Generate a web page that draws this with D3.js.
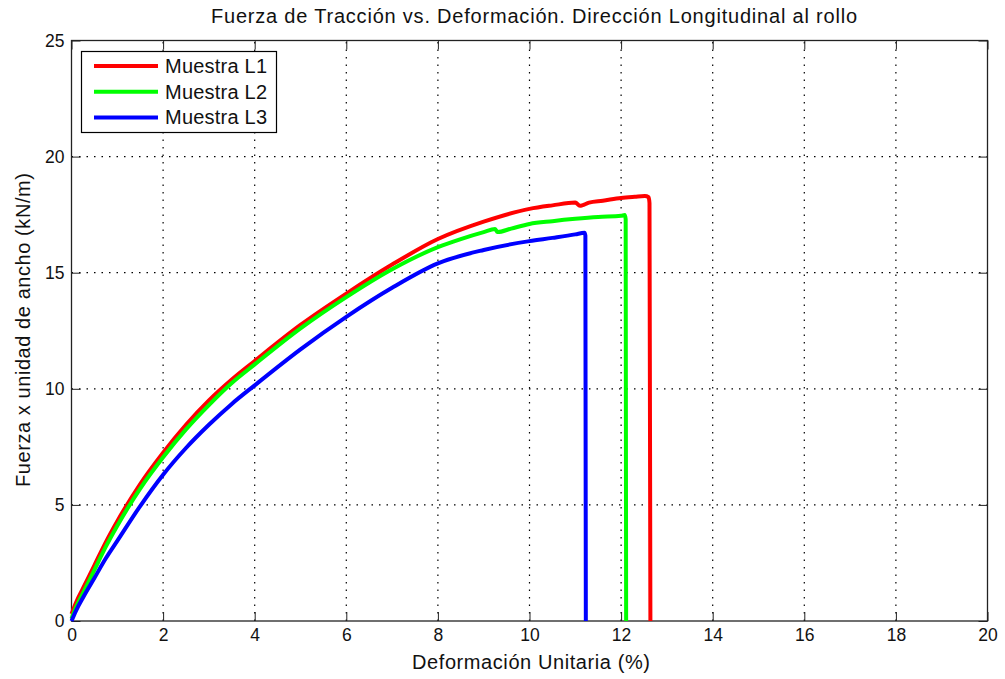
<!DOCTYPE html>
<meta charset="utf-8">
<script src="https://cdn.jsdelivr.net/npm/d3@7/dist/d3.min.js"></script>
<style>
body{margin:0;background:#fff;}
svg{font-family:"Liberation Sans",Arial,sans-serif;}
.domain{display:none}
</style>
<body>
<div id="chart"></div>
<script>
// data
var seriesNames=["Muestra L1","Muestra L2","Muestra L3"];
var seriesColors=["#ff0000","#00ff00","#0000ff"];

var xL1=[0,0.1,0.25,0.5,0.75,1,1.5,2,2.5,3,3.5,4,5,6,7,8,9,10,10.5,11,11.1,11.15,11.3,11.6,12,12.3,12.52,12.6,12.62,12.64];
var yL1=[0.3,0.8,1.4,2.4,3.4,4.3,5.9,7.25,8.45,9.5,10.4,11.2,12.75,14.1,15.35,16.45,17.2,17.75,17.9,18.02,17.88,17.9,18.02,18.1,18.22,18.27,18.3,18.25,18.0,0];

var xL2=[0,0.1,0.25,0.5,0.75,1,1.5,2,2.5,3,3.5,4,5,6,7,8,8.5,9,9.25,9.3,9.6,10,10.5,11,11.5,12,12.08,12.1,12.11];
var yL2=[0.1,0.6,1.2,2.2,3.2,4.1,5.7,7.05,8.25,9.3,10.25,11.05,12.6,13.95,15.15,16.1,16.45,16.75,16.88,16.75,16.9,17.1,17.22,17.32,17.4,17.45,17.48,17.3,0];

var xL3=[0,0.1,0.25,0.5,0.75,1,1.5,2,2.5,3,3.5,4,5,6,7,8,9,10,10.5,11,11.2,11.22,11.23];
var yL3=[0,0.45,1.0,1.85,2.7,3.45,4.95,6.3,7.45,8.45,9.35,10.15,11.7,13.1,14.35,15.4,15.98,16.36,16.5,16.65,16.72,16.6,0];

var xTicks=[0,2,4,6,8,10,12,14,16,18,20];
var yTicks=[0,5,10,15,20,25];

var W=1005,H=679;
var x=d3.scaleLinear().domain([0,20]).range([71.5,987.5]);
var y=d3.scaleLinear().domain([0,25]).range([621,40.5]);

var svg=d3.select("#chart").append("svg").attr("width",W).attr("height",H);

// grid
svg.append("g").selectAll("line").data(xTicks.slice(1,-1)).enter().append("line")
  .attr("x1",d=>x(d)).attr("x2",d=>x(d)).attr("y1",y(0)).attr("y2",y(25))
  .attr("stroke","#000").attr("stroke-width",1.2).attr("stroke-dasharray","1.5,6");
svg.append("g").selectAll("line").data(yTicks.slice(1,-1)).enter().append("line")
  .attr("y1",d=>y(d)).attr("y2",d=>y(d)).attr("x1",x(0)).attr("x2",x(20))
  .attr("stroke","#000").attr("stroke-width",1.2).attr("stroke-dasharray","1.5,6");

// axes, ticks pointing inward like matlab
svg.append("g").attr("transform","translate(0,"+y(0)+")")
  .call(d3.axisBottom(x).tickValues(xTicks).tickSizeInner(-9).tickSizeOuter(0).tickPadding(8));
svg.append("g").attr("transform","translate("+x(0)+",0)")
  .call(d3.axisLeft(y).tickValues(yTicks).tickSizeInner(-9).tickSizeOuter(0).tickPadding(7));
svg.append("g").attr("transform","translate(0,"+y(25)+")")
  .call(d3.axisTop(x).tickValues(xTicks).tickSizeInner(-9).tickSizeOuter(0).tickFormat(""));
svg.append("g").attr("transform","translate("+x(20)+",0)")
  .call(d3.axisRight(y).tickValues(yTicks).tickSizeInner(-9).tickSizeOuter(0).tickFormat(""));
svg.selectAll(".tick text").attr("font-size",17.5).attr("fill","#111").attr("font-family","Liberation Sans, Arial, sans-serif");
svg.selectAll(".tick line").attr("stroke","#222");

// box
svg.append("rect").attr("x",x(0)).attr("y",y(25)).attr("width",x(20)-x(0)).attr("height",y(0)-y(25))
  .attr("fill","none").attr("stroke","#222").attr("stroke-width",1.3);

// lines
var line=d3.line().x(d=>x(d[0])).y(d=>y(d[1])).curve(d3.curveMonotoneX);
var all=[[xL1,yL1],[xL2,yL2],[xL3,yL3]];
all.forEach(function(s,i){
  var pts=s[0].map((v,j)=>[v,s[1][j]]);
  svg.append("path").datum(pts).attr("d",line)
    .attr("fill","none").attr("stroke",seriesColors[i]).attr("stroke-width",4)
    .attr("stroke-linejoin","round");
});

// title and labels
svg.append("text").attr("x",534).attr("y",23).attr("text-anchor","middle")
  .attr("font-size",20).attr("fill","#111")
  .attr("textLength",646).attr("lengthAdjust","spacing")
  .text("Fuerza de Tracción vs. Deformación. Dirección Longitudinal al rollo");
svg.append("text").attr("x",531).attr("y",669).attr("text-anchor","middle")
  .attr("font-size",20).attr("fill","#111")
  .attr("textLength",238).attr("lengthAdjust","spacing")
  .text("Deformación Unitaria (%)");
svg.append("text").attr("transform","translate(30,330) rotate(-90)").attr("text-anchor","middle")
  .attr("font-size",20).attr("fill","#111")
  .attr("textLength",314).attr("lengthAdjust","spacing")
  .text("Fuerza x unidad de ancho (kN/m)");

// legend
var lg=svg.append("g");
lg.append("rect").attr("x",81.5).attr("y",51.5).attr("width",195).attr("height",81)
  .attr("fill","#fff").attr("stroke","#000").attr("stroke-width",1.2);
seriesNames.forEach(function(n,i){
  var yy=66+i*25.7;
  lg.append("line").attr("x1",94).attr("x2",158).attr("y1",yy).attr("y2",yy)
    .attr("stroke",seriesColors[i]).attr("stroke-width",4);
  lg.append("text").attr("x",165).attr("y",yy+7).attr("font-size",20).attr("fill","#111")
    .attr("textLength",102).attr("lengthAdjust","spacing").text(n);
});
</script>
</body>
